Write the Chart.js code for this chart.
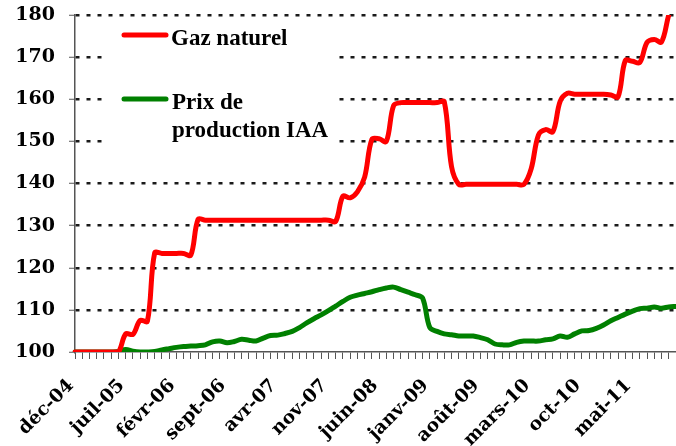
<!DOCTYPE html>
<html>
<head>
  <meta charset="utf-8">
  <title>Gaz naturel et prix de production IAA</title>
  <script src="https://cdn.jsdelivr.net/npm/chart.js"></script>
  <style>
    body { margin: 0; background: #fff; }
    #chart { display: block; }
  </style>
</head>
<body>
  <canvas id="chart" width="676" height="446"></canvas>

  <script>
    // month names used for the category labels (déc-04 ... nov-11)
    const moisNoms = ["janv", "févr", "mars", "avr", "mai", "juin", "juil", "août", "sept", "oct", "nov", "déc"];
    const moisDebut = 11;   // décembre
    const anneeDebut = 4;   // 2004
    const nbMois = 84;

    const yTicks = [100, 110, 120, 130, 140, 150, 160, 170, 180];

    // Gaz naturel, base 100 en déc-04
    const gazNaturel = [
      100, 100, 100, 100, 100, 100, 100,
      104.3, 104.2, 107.5, 107.3,
      123.5, 123.4, 123.4, 123.4, 123.4, 123.0,
      131.5,
      131.3, 131.3, 131.3, 131.3, 131.3, 131.3, 131.3, 131.3, 131.3,
      131.3, 131.3, 131.3, 131.3, 131.3, 131.3, 131.3, 131.3, 131.3,
      131.0,
      137.0, 136.6, 138.0, 141.5,
      150.5, 150.6, 150.0,
      158.5, 159.2, 159.2, 159.2, 159.2, 159.2, 159.2, 159.4,
      144.0,
      139.8, 139.8, 139.8, 139.8, 139.8, 139.8, 139.8, 139.8, 139.8, 139.8,
      143.5, 151.5, 152.8, 152.3, 159.5,
      161.4, 161.2, 161.2, 161.2, 161.2, 161.2, 161.0, 160.6,
      169.2, 169.0, 168.7, 173.5, 174.2, 173.6, 180.0, 185.0
    ];

    // Prix de production IAA
    const prixIAA = [
      100, 100, 100, 100, 100, 100, 100.1,
      100.6, 100.2, 100, 100, 100.1,
      100.5, 100.8, 101.1, 101.3, 101.4, 101.5,
      101.7, 102.4, 102.6, 102.2, 102.5, 103.0,
      102.8, 102.6, 103.3, 103.9, 104.0, 104.4,
      104.9, 105.8, 106.9, 107.9, 108.8, 109.8,
      110.9, 112.0, 113.0, 113.5, 113.9, 114.3,
      114.8, 115.2, 115.4, 114.8, 114.2, 113.6,
      112.8, 105.8, 104.9, 104.3, 104.1, 103.8,
      103.8, 103.8, 103.4, 102.9, 101.9, 101.7,
      101.7, 102.3, 102.6, 102.6, 102.6, 102.9,
      103.1, 103.8, 103.5, 104.3, 105.0, 105.1,
      105.6, 106.4, 107.4, 108.2, 109.0, 109.7,
      110.3, 110.4, 110.7, 110.4, 110.7, 110.8
    ];

    const labels = [];
    for (let i = 0; i < nbMois; i++) {
      const m = (moisDebut + i) % 12;
      const a = anneeDebut + Math.floor((moisDebut + i) / 12);
      labels.push(moisNoms[m] + "-" + String(a).padStart(2, "0"));
    }

    // legend drawn inside the plot, on a white box over the grid
    const legendeInterne = {
      id: "legendeInterne",
      beforeDatasetsDraw(chart) {
        const ctx = chart.ctx;
        ctx.save();
        ctx.fillStyle = "#fff";
        ctx.fillRect(108, 22, 226, 136);

        ctx.lineCap = "round";
        ctx.lineWidth = 5;
        ctx.strokeStyle = "#ff0000";
        ctx.beginPath(); ctx.moveTo(124, 35); ctx.lineTo(166, 35); ctx.stroke();
        ctx.strokeStyle = "#008000";
        ctx.beginPath(); ctx.moveTo(124, 99); ctx.lineTo(166, 99); ctx.stroke();

        ctx.fillStyle = "#000";
        ctx.font = "bold 23px 'Liberation Serif'";
        ctx.textBaseline = "alphabetic";
        ctx.fillText("Gaz naturel", 171, 45);
        ctx.fillText("Prix de", 172, 109);
        ctx.fillText("production IAA", 172, 137);
        ctx.restore();
      }
    };

    new Chart("chart", {
      type: "line",
      data: {
        labels: labels,
        datasets: [
          {
            label: "Gaz naturel",
            data: gazNaturel,
            borderColor: "#ff0000",
            borderWidth: 5,
            pointRadius: 0,
            tension: 0.35,
            borderCapStyle: "round",
            borderJoinStyle: "round",
          },
          {
            label: "Prix de production IAA",
            data: prixIAA,
            borderColor: "#008000",
            borderWidth: 5,
            pointRadius: 0,
            tension: 0.35,
            borderCapStyle: "round",
            borderJoinStyle: "round",
          },
        ],
      },
      options: {
        responsive: false,
        animation: false,
        devicePixelRatio: 1,
        layout: { padding: { top: 15, right: 0, left: 0, bottom: 0 } },
        plugins: {
          legend: { display: false },
          tooltip: { enabled: false },
        },
        scales: {
          x: {
            ticks: {
              autoSkip: false,
              maxRotation: 45,
              minRotation: 45,
              padding: 16,
              labelOffset: -4,
              color: "#000",
              font: { family: "'DejaVu Serif'", size: 18.5, weight: "bold" },
              callback: (v, i) => (i % 7 === 0 ? labels[i] : ""),
            },
            grid: {
              drawOnChartArea: false,
              tickLength: 7,
              tickColor: "#555",
              tickWidth: 1,
            },
            border: { color: "#555", width: 1.5 },
            afterFit: (scale) => {
              scale.height = 94;
              scale.paddingLeft = 0;
              scale.paddingRight = 0;
            },
          },
          y: {
            min: 100,
            max: 180,
            afterBuildTicks: (scale) => {
              scale.ticks = yTicks.map((v) => ({ value: v }));
            },
            ticks: {
              padding: 14,
              color: "#000",
              font: { family: "'DejaVu Serif'", size: 19, weight: "bold" },
            },
            grid: {
              color: (c) => (c.tick && c.tick.value === 100 ? "rgba(0,0,0,0)" : "#1a1a1a"),
              lineWidth: 2.5,
              tickLength: 6,
              tickColor: "#555",
              tickWidth: 1,
            },
            border: { color: "#555", width: 1.5, dash: [4, 7] },
            afterFit: (scale) => {
              scale.width = 75;
              scale.paddingTop = 0;
              scale.paddingBottom = 0;
            },
          },
        },
      },
      plugins: [legendeInterne],
    });
  </script>
</body>
</html>
